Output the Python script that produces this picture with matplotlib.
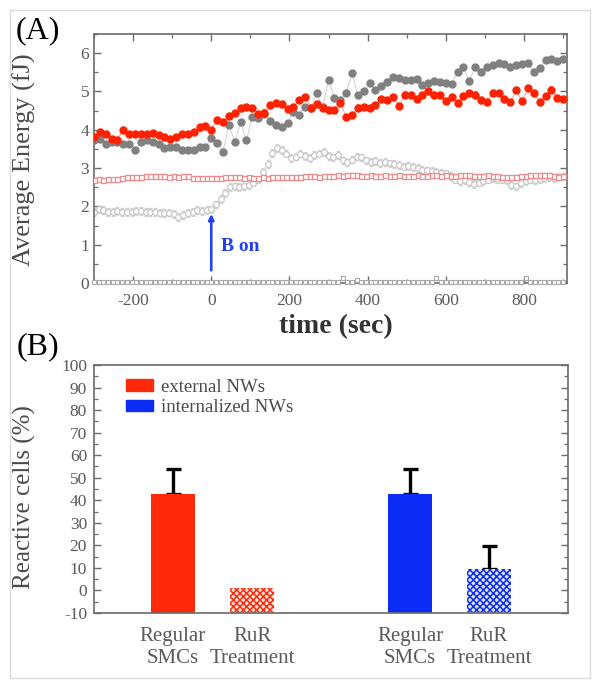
import numpy as np
import matplotlib
matplotlib.use("Agg")
import matplotlib.pyplot as plt
from matplotlib.patches import Rectangle, Patch
from matplotlib.ticker import MultipleLocator

plt.rcParams['font.family'] = ['Liberation Serif', 'DejaVu Serif']
plt.rcParams['hatch.linewidth'] = 1.1
plt.rcParams['axes.unicode_minus'] = False

# ---------------- Panel A data ----------------
t_filled = np.arange(-300, 901, 15)          # sampling times (s) of filled series
t_open = np.arange(-300, 901, 12)            # sampling times (s) of open series

red_filled = [3.82, 3.95, 3.88, 3.76, 3.73, 4.00, 3.88, 3.88, 3.90, 3.88,
              3.91, 3.86, 3.80, 3.77, 3.82, 3.88, 3.90, 3.95, 4.06, 4.10,
              4.00, 4.26, 4.21, 4.36, 4.43, 4.56, 4.60, 4.56, 4.42, 4.45,
              4.65, 4.69, 4.68, 4.55, 4.60, 4.78, 4.86, 4.58, 4.68, 4.56,
              4.52, 4.52, 4.70, 4.34, 4.38, 4.58, 4.60, 4.56, 4.65, 4.80,
              4.78, 4.86, 4.62, 4.92, 4.91, 4.80, 4.90, 5.02, 4.90, 4.91,
              4.74, 4.85, 4.70, 4.88, 4.96, 4.92, 4.78, 4.73, 4.95, 4.96,
              4.80, 4.72, 5.04, 4.75, 5.08, 4.95, 4.72, 4.88, 5.05, 4.82,
              4.80]

gray_filled = [3.73, 3.75, 3.63, 3.69, 3.69, 3.63, 3.63, 3.47, 3.69, 3.73,
               3.69, 3.63, 3.52, 3.54, 3.54, 3.47, 3.46, 3.47, 3.56, 3.54,
               3.78, 3.65, 3.43, 4.13, 3.69, 4.19, 3.73, 4.34, 4.30, 4.40,
               4.24, 4.13, 4.07, 4.17, 4.47, 4.39, 4.60, 4.56, 4.95, 4.60,
               5.30, 4.82, 4.78, 4.97, 5.47, 4.91, 5.00, 5.21, 5.04, 5.13,
               5.26, 5.37, 5.34, 5.30, 5.30, 5.32, 5.17, 5.21, 5.28, 5.26,
               5.23, 5.20, 5.50, 5.63, 5.28, 5.63, 5.52, 5.65, 5.69, 5.73,
               5.72, 5.65, 5.69, 5.72, 5.73, 5.52, 5.60, 5.82, 5.84, 5.80,
               5.85]

gray_open = [1.86, 1.92, 1.90, 1.86, 1.86, 1.88, 1.86, 1.86, 1.86, 1.88,
             1.88, 1.86, 1.85, 1.86, 1.84, 1.82, 1.84, 1.80, 1.72, 1.78,
             1.82, 1.86, 1.90, 1.88, 1.90, 1.92, 2.05, 2.20, 2.35, 2.50,
             2.52, 2.50, 2.52, 2.55, 2.62, 2.70, 2.90, 3.10, 3.40, 3.52,
             3.48, 3.38, 3.26, 3.30, 3.38, 3.32, 3.26, 3.34, 3.38, 3.42,
             3.32, 3.28, 3.34, 3.20, 3.15, 3.22, 3.30, 3.28, 3.20, 3.16,
             3.18, 3.14, 3.16, 3.12, 3.10, 3.08, 3.04, 3.05, 3.02, 3.00,
             2.96, 2.94, 2.92, 2.90, 2.88, 2.86, 2.80, 2.70, 2.66, 2.68,
             2.64, 2.58, 2.62, 2.66, 2.70, 2.74, 2.72, 2.70, 2.68, 2.55,
             2.52, 2.60, 2.66, 2.70, 2.68, 2.72, 2.74, 2.76, 2.74, 2.76,
             2.78]

red_open = [2.70, 2.72, 2.70, 2.72, 2.71, 2.72, 2.74, 2.76, 2.77, 2.78,
            2.78, 2.79, 2.80, 2.80, 2.79, 2.80, 2.78, 2.79, 2.78, 2.80,
            2.80, 2.74, 2.73, 2.73, 2.74, 2.74, 2.75, 2.75, 2.76, 2.76,
            2.77, 2.76, 2.75, 2.76, 2.75, 2.74, 2.76, 2.75, 2.76, 2.77,
            2.76, 2.78, 2.77, 2.76, 2.78, 2.79, 2.80, 2.79, 2.78, 2.80,
            2.80, 2.79, 2.81, 2.80, 2.81, 2.82, 2.81, 2.80, 2.79, 2.81,
            2.80, 2.80, 2.81, 2.80, 2.79, 2.81, 2.80, 2.79, 2.80, 2.81,
            2.80, 2.80, 2.82, 2.81, 2.80, 2.81, 2.79, 2.80, 2.81, 2.82,
            2.81, 2.80, 2.79, 2.80, 2.81, 2.80, 2.79, 2.78, 2.77, 2.76,
            2.78, 2.79, 2.79, 2.81, 2.82, 2.82, 2.83, 2.82, 2.80, 2.78,
            2.79]

base_open = [0.02, 0.02, 0.02, 0.02, 0.02, 0.02, 0.02, 0.02, 0.02, 0.02,
             0.02, 0.02, 0.02, 0.02, 0.02, 0.02, 0.02, 0.02, 0.02, 0.02,
             0.02, 0.02, 0.02, 0.02, 0.02, 0.02, 0.02, 0.02, 0.02, 0.02,
             0.02, 0.02, 0.02, 0.02, 0.02, 0.02, 0.02, 0.02, 0.02, 0.02,
             0.02, 0.02, 0.02, 0.02, 0.02, 0.02, 0.02, 0.02, 0.02, 0.02,
             0.02, 0.02, 0.02, 0.12, 0.02, 0.02, 0.08, 0.02, 0.02, 0.02,
             0.02, 0.02, 0.02, 0.02, 0.02, 0.02, 0.02, 0.02, 0.02, 0.02,
             0.02, 0.02, 0.02, 0.12, 0.02, 0.02, 0.02, 0.02, 0.02, 0.02,
             0.02, 0.02, 0.02, 0.02, 0.02, 0.02, 0.02, 0.02, 0.02, 0.02,
             0.02, 0.02, 0.12, 0.02, 0.02, 0.02, 0.02, 0.02, 0.02, 0.02,
             0.02]

B_on_time = 0

# ---------------- Panel B data ----------------
conditions = ['Regular\nSMCs', 'RuR\nTreatment']
groups = ['external NWs', 'internalized NWs']
external_vals = [43, 1]
external_err = [11, 0]
internal_vals = [43, 9.5]
internal_err = [11, 10]

# ---------------- Figure ----------------
W, H = 602, 689
fig = plt.figure(figsize=(W / 100, H / 100), dpi=100)
fig.add_artist(Rectangle((10 / W, 1 - 678 / H), 580 / W, 668 / H,
                         transform=fig.transFigure, fill=False,
                         ec='#dcdcdc', lw=1.0))

def fig_axes(l, t, r, b):
    return fig.add_axes([l / W, 1 - b / H, (r - l) / W, (b - t) / H])

axA = fig_axes(94, 34, 567, 283)
axB = fig_axes(94, 365, 568, 613)

spine_col = '#6b6b6b'
tick_lab_col = '#5a5a5a'

# ---- Panel A ----
axA.errorbar(t_open, gray_open, yerr=0.1, fmt='o-', ms=4.2, mfc='white',
             mec='#c8c8c8', mew=0.9, color='#e0e0e0', lw=0.6,
             ecolor='#d4d4d4', elinewidth=0.6, capsize=1.5, zorder=2)
axA.errorbar(t_open, red_open, yerr=0.04, fmt='s-', ms=3.6, mfc='white',
             mec='#f08a8a', mew=0.9, color='#f6b0b0', lw=0.6,
             ecolor='#f4a0a0', elinewidth=0.6, capsize=1.2, zorder=3)
axA.errorbar(t_open, base_open, yerr=0.03, fmt='s-', ms=3.4, mfc='white',
             mec='#a8a8a8', mew=0.8, color='#c8c8c8', lw=0.6,
             ecolor='#b0b0b0', elinewidth=0.6, capsize=1.0, zorder=3,
             clip_on=False)
axA.errorbar(t_filled, gray_filled, yerr=0.06, fmt='o-', ms=5.0,
             mfc='#808080', mec='#808080', color='#cfcfcf', lw=0.7,
             ecolor='#c8c8c8', elinewidth=0.7, capsize=1.5, zorder=4)
axA.errorbar(t_filled, red_filled, yerr=0.08, fmt='o-', ms=5.0,
             mfc='#ff2200', mec='#ff2200', color='#ff9a9a', lw=0.7,
             ecolor='#ff8f8f', elinewidth=0.7, capsize=1.5, zorder=5)

axA.annotate('', xy=(B_on_time, 1.8), xytext=(B_on_time, 0.33),
             arrowprops=dict(arrowstyle='-|>', color='#1f3cff', lw=1.8,
                             mutation_scale=8, shrinkA=0, shrinkB=0),
             zorder=6)
axA.text(26, 0.94, 'B on', color='#1f3cff', fontsize=14, fontweight='bold',
         ha='left', va='center')

axA.set_xlim(-300, 910)
axA.set_ylim(0, 6.5)
axA.xaxis.set_major_locator(MultipleLocator(200))
axA.xaxis.set_minor_locator(MultipleLocator(100))
axA.yaxis.set_major_locator(MultipleLocator(1))
axA.yaxis.set_minor_locator(MultipleLocator(0.5))
axA.tick_params(which='both', direction='in', top=True, right=True,
                color=spine_col, labelcolor=tick_lab_col, labelsize=12.5)
axA.tick_params(which='major', length=5, width=1.0)
axA.tick_params(which='minor', length=3, width=0.9)
axA.tick_params(axis='x', pad=7)
axA.set_ylabel('Average Energy (fJ)', fontsize=19, color='#4a4a4a')
axA.yaxis.set_label_coords(-0.123, 0.494)
axA.set_xlabel('time (sec)', fontsize=20, fontweight='bold', color='#333333',
               va='center')
axA.xaxis.set_label_coords(0.512, -0.177)
for s in axA.spines.values():
    s.set_color(spine_col)
    s.set_linewidth(1.2)

# ---- Panel B ----
ymin_B = -10
pos_ext = [1, 2]
pos_int = [4, 5]
red = '#ff2a0a'
blue = '#0b2cf5'

axB.bar(pos_ext[0], external_vals[0] - ymin_B, bottom=ymin_B,
        width=0.55, color=red, zorder=2)
axB.bar(pos_ext[1], external_vals[1] - ymin_B, bottom=ymin_B, width=0.55,
        facecolor='#ffe4de', edgecolor=red, hatch='xxxxx', lw=0, zorder=2)
axB.bar(pos_int[0], internal_vals[0] - ymin_B, bottom=ymin_B,
        width=0.55, color=blue, zorder=2)
axB.bar(pos_int[1], internal_vals[1] - ymin_B, bottom=ymin_B, width=0.55,
        facecolor='#e0e4ff', edgecolor=blue, hatch='xxxxx', lw=0, zorder=2)

for pos, vals, errs in [(pos_ext, external_vals, external_err),
                        (pos_int, internal_vals, internal_err)]:
    for p, v, e in zip(pos, vals, errs):
        if e > 0:
            axB.errorbar([p], [v], yerr=[[0], [e]], fmt='none',
                         ecolor='black', elinewidth=2.4, capsize=5.4,
                         capthick=2.4, zorder=1)

axB.set_xlim(0, 6)
axB.set_ylim(ymin_B, 100)
axB.set_xticks(pos_ext + pos_int)
axB.set_xticklabels(conditions + conditions, fontsize=15, color=tick_lab_col,
                    linespacing=1.25)
axB.tick_params(axis='x', length=0, pad=10)
axB.yaxis.set_major_locator(MultipleLocator(10))
axB.yaxis.set_minor_locator(MultipleLocator(5))
axB.tick_params(axis='y', which='both', direction='in', right=True,
                color=spine_col, labelcolor=tick_lab_col, labelsize=12.5,
                pad=5)
axB.tick_params(axis='y', which='major', length=5, width=1.0)
axB.tick_params(axis='y', which='minor', length=3, width=0.9)
axB.set_ylabel('Reactive cells (%)', fontsize=18, color='#4a4a4a')
axB.yaxis.set_label_coords(-0.122, 0.468)
for s in axB.spines.values():
    s.set_color(spine_col)
    s.set_linewidth(1.2)

axB.legend(handles=[Patch(color=red), Patch(color=blue)], labels=groups,
           loc='upper left', bbox_to_anchor=(0.0675, 0.945), frameon=False,
           fontsize=13.5, handlelength=1.45, handleheight=0.55,
           handletextpad=0.4, labelspacing=0.2, borderpad=0,
           borderaxespad=0, labelcolor='#4a4a4a')

fig.text(38 / W, 1 - 31 / H, '(A)', fontsize=23, ha='center', va='center')
fig.text(38 / W, 1 - 347 / H, '(B)', fontsize=23, ha='center', va='center')

fig.savefig('out.png', dpi=100)
